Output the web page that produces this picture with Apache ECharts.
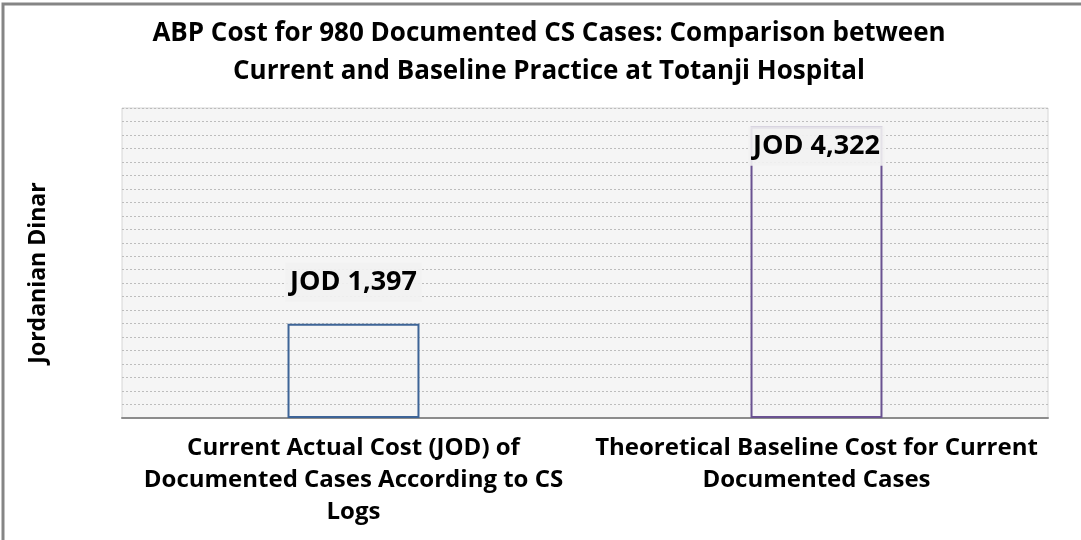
<!DOCTYPE html>
<html>
<head>
<meta charset="utf-8">
<script src="https://cdn.jsdelivr.net/npm/echarts@6/dist/echarts.min.js"></script>
<style>
  html, body { margin: 0; padding: 0; background: #fff; }
</style>
</head>
<body>
<div id="bar" style="width:1081px;height:540px;"></div>
<script>
  // chart data
  var categories = [
    'Current Actual Cost (JOD) of\nDocumented Cases According to CS\nLogs',
    'Theoretical Baseline Cost for Current\nDocumented Cases'
  ];
  var costs = [1397, 4322];
  var barColors = ['#3d6497', '#6a5291'];
  var yMax = 4600;
  var yStep = 200;

  var font = '"Open Sans", "Noto Sans", sans-serif';

  var barChart = echarts.init(document.getElementById('bar'));
  barChart.setOption({
    title: {
      text: 'ABP Cost for 980 Documented CS Cases: Comparison between\nCurrent and Baseline Practice at Totanji Hospital',
      left: 544,
      top: 10,
      textAlign: 'center',
      textStyle: {
        fontFamily: font,
        fontSize: 26,
        fontWeight: 'bold',
        color: '#000',
        lineHeight: 38
      }
    },
    graphic: [{
      type: 'rect',
      shape: { x: 3, y: 4, width: 1100, height: 560 },
      style: { fill: 'none', stroke: '#858585', lineWidth: 3 }
    }],
    grid: {
      left: 122,
      right: 33,
      top: 108,
      bottom: 122,
      show: true,
      backgroundColor: '#f5f5f5',
      borderColor: '#d6d6d6',
      borderWidth: 1
    },
    xAxis: {
      type: 'category',
      data: categories,
      axisTick: { show: false },
      axisLine: { lineStyle: { color: '#8c8c8c', width: 2 } },
      axisLabel: {
        interval: 0,
        margin: 14,
        fontFamily: font,
        fontSize: 24,
        fontWeight: 'bold',
        color: '#000',
        lineHeight: 32
      }
    },
    yAxis: {
      type: 'value',
      min: 0,
      max: yMax,
      interval: yStep,
      name: 'Jordanian Dinar',
      nameLocation: 'middle',
      nameRotate: 90,
      nameGap: 72,
      nameTextStyle: {
        fontFamily: font,
        fontSize: 23,
        fontWeight: 'bold',
        color: '#000',
        padding: [0, 20, 0, 0]
      },
      axisLine: { show: false },
      axisTick: { show: false },
      axisLabel: { show: false },
      splitLine: {
        lineStyle: { color: '#bdbdbd', type: [2, 2], width: 1 }
      }
    },
    series: [{
      name: 'Cost',
      type: 'bar',
      barWidth: '28.5%',
      data: costs.map(function (v, i) {
        return {
          value: v,
          itemStyle: {
            color: 'rgba(0,0,0,0)',
            borderColor: barColors[i],
            borderWidth: 2
          },
          label: i === 0
            ? { position: 'top', distance: 22 }
            : { position: 'insideTop', distance: 0 }
        };
      }),
      label: {
        show: true,
        fontFamily: font,
        fontSize: 27,
        fontWeight: 'bold',
        color: '#000',
        backgroundColor: 'rgba(242,242,242,0.9)',
        padding: [6, 5, 6, 5],
        formatter: function (p) {
          return 'JOD ' + p.value.toLocaleString('en-US');
        }
      }
    }]
  });
</script>
</body>
</html>
